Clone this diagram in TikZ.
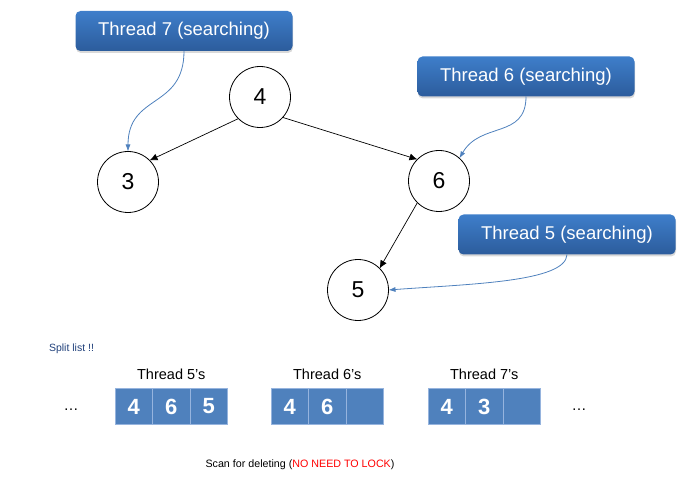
\documentclass[tikz,border=0pt]{standalone}
\usepackage{fontspec}
\setmainfont{Liberation Sans}
\usepackage{xcolor}
\usepackage{tikz}
\usetikzlibrary{shapes,arrows,positioning,calc,shadows,arrows.meta}
\definecolor{boxtop}{RGB}{62,126,202}
\definecolor{boxbot}{RGB}{44,92,156}
\definecolor{cellblue}{RGB}{79,129,189}
\definecolor{cellline}{RGB}{150,180,222}
\definecolor{ptrblue}{RGB}{79,129,189}
\definecolor{noteblue}{RGB}{31,63,122}

\begin{document}
\begin{tikzpicture}[x=1pt, y=1pt, node distance=0cm, outer sep=0pt,
    key/.style={circle, draw, line width=0.8pt, minimum size=61pt, inner sep=0pt, font=\fontsize{23}{24}\selectfont},
    thread/.style={rectangle, rounded corners=5pt, top color=boxtop, bottom color=boxbot, text=white, minimum width=217pt, minimum height=40pt, font=\fontsize{18.5}{20}\selectfont, drop shadow={opacity=0.3, shadow xshift=0.5pt, shadow yshift=-2pt}},
    cell/.style={rectangle, draw=cellline, line width=0.7pt, fill=cellblue, text=white, minimum width=37.5pt, minimum height=36pt, font=\fontsize{22}{22}\selectfont\bfseries},
    edge/.style={-{Latex[length=8pt, width=7pt]}, line width=0.7pt},
    ptr/.style={-{Latex[length=7pt, width=5pt]}, draw=ptrblue, line width=0.8pt}]
    \useasboundingbox (0,0) rectangle (694,-489);

    % tree
    \node [key] (n4) at (260,-97) {4};
    \node [key] (n3) at (128,-182) {3};
    \node [key] (n6) at (439,-181) {6};
    \node [key] (n5) at (358,-290) {5};
    \draw [edge] (n4.225) -- (n3.45);
    \draw [edge] (n4.318) -- (n6.135);
    \draw [edge] (n6.225) -- (n5.45);

    % threads
    \node [thread] (t7) at (184,-31) {Thread 7 (searching)};
    \node [thread] (t6) at (526,-76.5) {Thread 6 (searching)};
    \node [thread] (t5) at (567,-234.5) {Thread 5 (searching)};
    \draw [ptr] (t7.south) to[out=-90, in=90, looseness=1.3] (n3.north);
    \draw [ptr] (t6.south) to[out=-90, in=60, looseness=1.2] (n6.48);
    \draw [ptr] (t5.south) .. controls (566,-282) and (470,-284) .. (n5.east);

    % split list
    \node [font=\fontsize{10.5}{12}\selectfont, text=noteblue] (s0) at (71.5,-349) {Split list !!};
    \node [cell] (c0) at (133.75,-406.5) {4};
    \node [cell, right=of c0] (c1) {6};
    \node [cell, right=of c1] (c2) {5};
    \node [cell] (c3) at (289.75,-406.5) {4};
    \node [cell, right=of c3] (c4) {6};
    \node [cell, right=of c4] (c5) {};
    \node [cell] (c6) at (446.75,-406.5) {4};
    \node [cell, right=of c6] (c7) {3};
    \node [cell, right=of c7] (c8) {};

    \node [above=6pt of c1, font=\fontsize{14.5}{16}\selectfont] (l5) {Thread 5’s};
    \node [above=6pt of c4, font=\fontsize{14.5}{16}\selectfont] (l6) {Thread 6’s};
    \node [above=6pt of c7, font=\fontsize{14.5}{16}\selectfont] (l7) {Thread 7’s};
    \node [font=\fontsize{15}{16}\selectfont] (d0) at (71,-410) {\ldots};
    \node [font=\fontsize{15}{16}\selectfont] (d1) at (579,-410) {\ldots};

    \node [font=\fontsize{10.7}{12}\selectfont] (scan) at (300,-465) {Scan for deleting (\textcolor{red}{NO NEED TO LOCK})};
\end{tikzpicture}
\end{document}
